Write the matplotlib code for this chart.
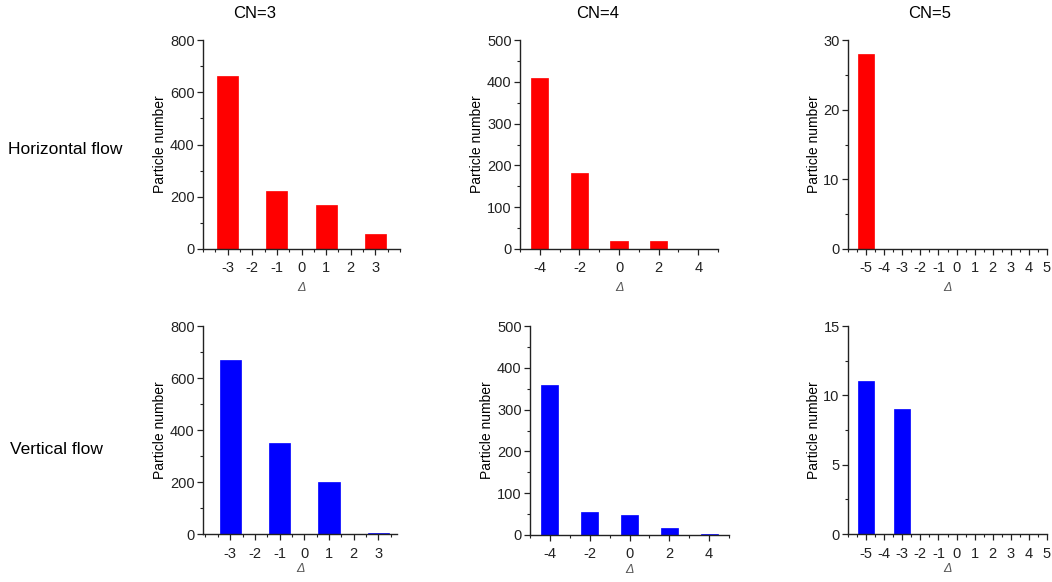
import matplotlib
matplotlib.use("Agg")
import matplotlib.pyplot as plt
from matplotlib.ticker import MultipleLocator

plt.rcParams['font.family'] = ['Liberation Sans', 'DejaVu Sans']
plt.rcParams['axes.unicode_minus'] = False

# delta values per coordination number
cn3_delta = [-3, -2, -1, 0, 1, 2, 3]
cn4_delta = [-4, -3, -2, -1, 0, 1, 2, 3, 4]
cn5_delta = [-5, -4, -3, -2, -1, 0, 1, 2, 3, 4, 5]

# labelled ticks
cn3_ticks = [-3, -2, -1, 0, 1, 2, 3]
cn4_ticks = [-4, -2, 0, 2, 4]
cn5_ticks = [-5, -4, -3, -2, -1, 0, 1, 2, 3, 4, 5]

# particle numbers, horizontal flow
h_cn3 = [662, 0, 222, 0, 167, 0, 59]
h_cn4 = [408, 0, 183, 0, 19, 0, 19, 0, 0]
h_cn5 = [28, 0, 0, 0, 0, 0, 0, 0, 0, 0, 0]

# particle numbers, vertical flow
v_cn3 = [668, 0, 351, 0, 201, 0, 5]
v_cn4 = [358, 0, 56, 0, 47, 0, 16, 0, 3]
v_cn5 = [11, 0, 9, 0, 0, 0, 0, 0, 0, 0, 0]

titles = ["CN=3", "CN=4", "CN=5"]
row_labels = ["Horizontal flow", "Vertical flow"]

W, H = 1052, 582
fig = plt.figure(figsize=(W / 100, H / 100), dpi=100)

def box(l, r, t, b):
    return [l / W, 1 - b / H, (r - l) / W, (b - t) / H]

panels = [
    # (left, right, top, bottom) px, x, y, color, xlim, ymax, ystep, yminor, ticks, xminor, xlabel pad
    ((203, 400, 40, 249), cn3_delta, h_cn3, "#ff0000", (-4, 4), 800, 200, 100, cn3_ticks, 0.5, 4.5),
    ((520, 718, 40, 249), cn4_delta, h_cn4, "#ff0000", (-5, 5), 500, 100, 50, cn4_ticks, 1, 4.5),
    ((848, 1047, 40, 249), cn5_delta, h_cn5, "#ff0000", (-6, 5), 30, 10, 5, cn5_ticks, 0.5, 4.5),
    ((203, 397, 326, 534), cn3_delta, v_cn3, "#0000ff", (-4.1, 3.75), 800, 200, 100, cn3_ticks, 0.5, 2),
    ((530, 729, 326, 535), cn4_delta, v_cn4, "#0000ff", (-5, 5), 500, 100, 50, cn4_ticks, 1, 2),
    ((848, 1047, 326, 534), cn5_delta, v_cn5, "#0000ff", (-6, 5), 15, 5, 2.5, cn5_ticks, 0.5, 2),
]

for (pos, x, y, color, xlim, ymax, ystep, yminor, ticks, xminor, xpad) in panels:
    ax = fig.add_axes(box(*pos))
    ax.bar(x, y, width=0.86, color=color, edgecolor=color, linewidth=0.5)
    ax.set_xlim(*xlim)
    ax.set_ylim(0, ymax)
    ax.yaxis.set_major_locator(MultipleLocator(ystep))
    ax.yaxis.set_minor_locator(MultipleLocator(yminor))
    ax.set_xticks(ticks)
    ax.set_xticklabels([str(t) for t in ticks])
    ax.xaxis.set_minor_locator(MultipleLocator(xminor))
    for s in ("top", "right"):
        ax.spines[s].set_visible(False)
    for s in ("left", "bottom"):
        ax.spines[s].set_linewidth(1.0)
        ax.spines[s].set_color("#222222")
    ax.tick_params(which="major", direction="out", length=4, width=0.9,
                   labelsize=10.5, colors="#222222", pad=2)
    ax.tick_params(axis="x", which="major", pad=5)
    ax.tick_params(which="minor", direction="out", length=2, width=0.8, colors="#222222")
    ax.set_ylabel("Particle number", fontsize=10, labelpad=2)
    ax.set_xlabel("Δ", fontsize=9, fontstyle="italic", color="#555555", labelpad=xpad)

title_x = [255, 598, 930]
for tx, t in zip(title_x, titles):
    fig.text(tx / W, 1 - 13 / H, t, ha="center", va="center", fontsize=12)

fig.text(8 / W, 1 - 150 / H, row_labels[0], ha="left", va="center", fontsize=12.5)
fig.text(10 / W, 1 - 450 / H, row_labels[1], ha="left", va="center", fontsize=12.5)

fig.savefig("out.png", dpi=100)
